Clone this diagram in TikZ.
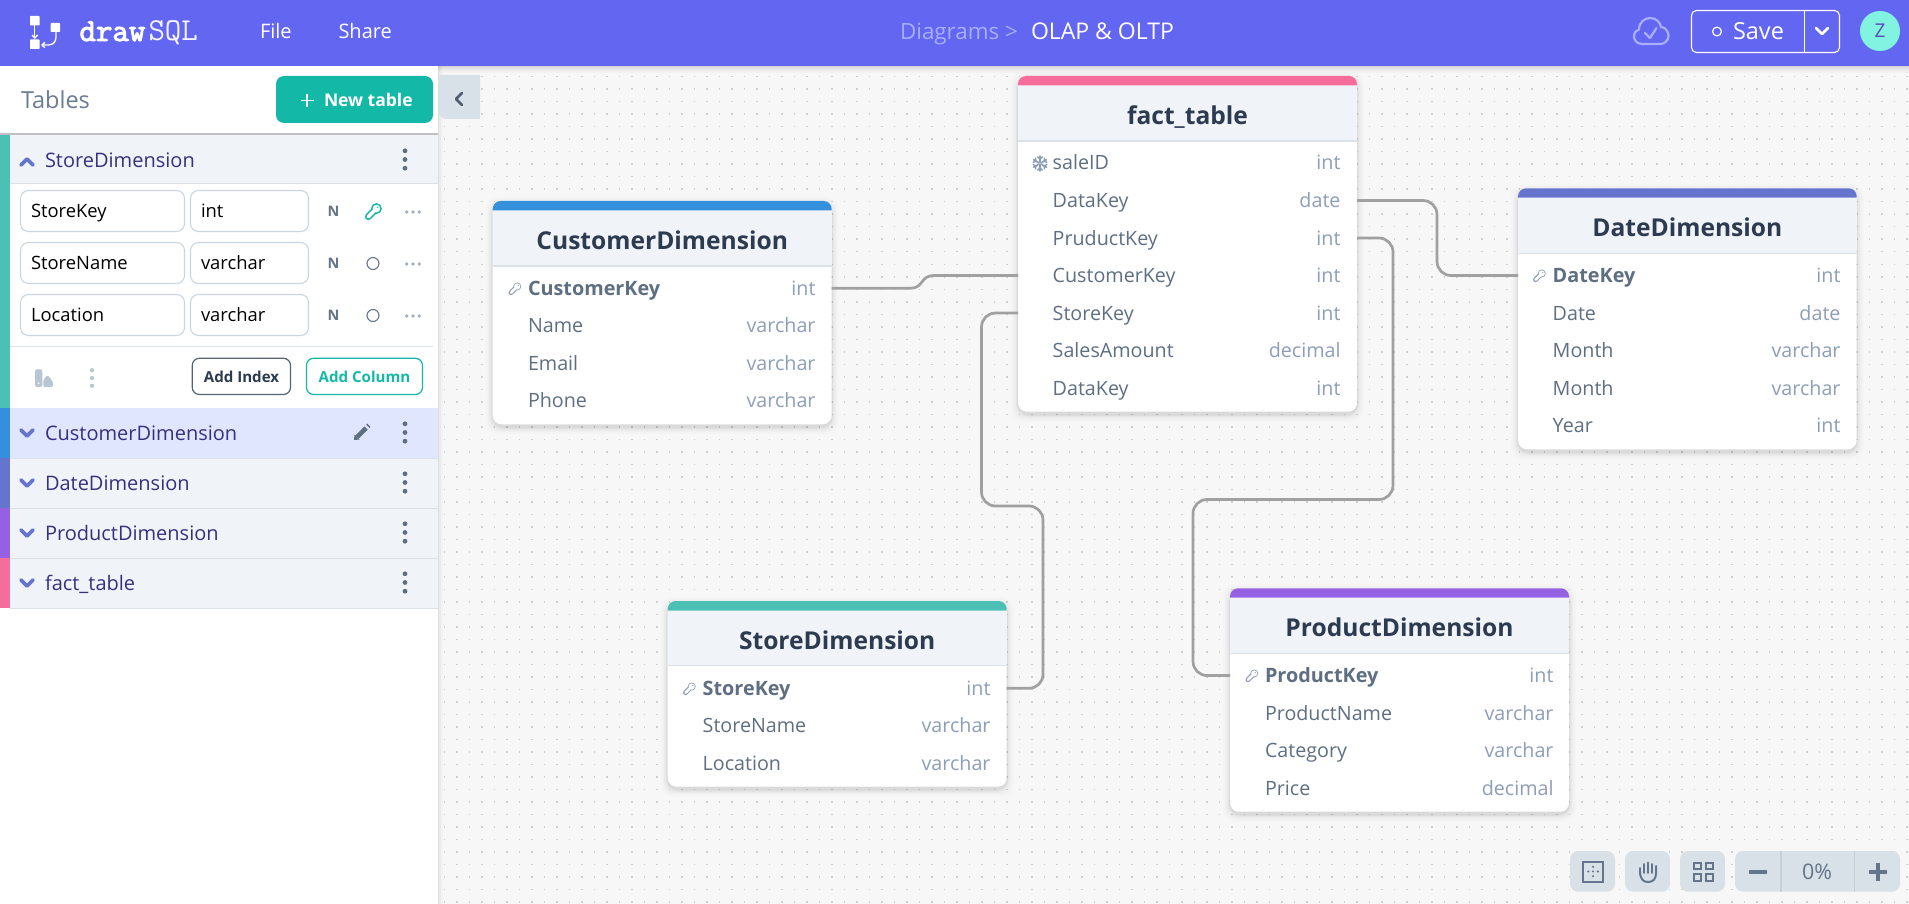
\documentclass[tikz,border=0pt]{standalone}
\usepackage{fontspec}
\setmainfont{Open Sans}
\setmonofont{Latin Modern Mono}
\newfontfamily\logobold[FakeBold=3]{Latin Modern Mono}
\usetikzlibrary{arrows.meta}
\definecolor{hdr}{HTML}{6366F1}
\definecolor{canvasbg}{HTML}{F7F7F7}
\definecolor{griddot}{HTML}{CFCFCF}
\definecolor{teal}{HTML}{14B8A6}
\definecolor{ctTeal}{HTML}{4DC0B5}
\definecolor{ctBlue}{HTML}{3490DC}
\definecolor{ctDate}{HTML}{6574CD}
\definecolor{ctPurple}{HTML}{9561E2}
\definecolor{ctPink}{HTML}{F66D9B}
\definecolor{rowbg}{HTML}{F0F4F8}
\definecolor{rowhi}{HTML}{E0E6FD}
\definecolor{rowline}{HTML}{DAE1E8}
\definecolor{rowtxt}{HTML}{38307F}
\definecolor{fieldtxt}{HTML}{5F6F82}
\definecolor{typetxt}{HTML}{8E9EB8}
\definecolor{titletxt}{HTML}{2D3B50}
\definecolor{inpline}{HTML}{CBD5E0}
\definecolor{icong}{HTML}{64748B}
\definecolor{iconl}{HTML}{B8C5D3}
\definecolor{wire}{HTML}{A0A0A0}
\definecolor{toolbg}{HTML}{D8E1E8}
\definecolor{toolsep}{HTML}{C3D0DB}
\definecolor{cloud}{HTML}{A8AEF8}
\definecolor{crumb}{HTML}{A8AEF8}
\definecolor{avatar}{HTML}{81F3E0}
\definecolor{avatxt}{HTML}{5A4FB5}
\definecolor{tablestxt}{HTML}{6B7C93}
\definecolor{dotsc}{HTML}{5F6F82}
\newcommand{\fsz}[1]{\fontsize{#1}{#1}\selectfont}
\tikzset{
  txt/.style={inner sep=0pt,outer sep=0pt,anchor=base west},
  txtr/.style={inner sep=0pt,outer sep=0pt,anchor=base east},
  txtc/.style={inner sep=0pt,outer sep=0pt,anchor=base},
  fieldname/.style={txt,text=fieldtxt,font=\fsz{19.7}},
  fieldkey/.style={txt,text=fieldtxt,font=\fsz{19.8}\bfseries},
  fieldtype/.style={txtr,text=typetxt,font=\fsz{19.7}},
  tabletitle/.style={txtc,text=titletxt,font=\fsz{24.6}\bfseries},
  tablebox/.style={rectangle,rounded corners=9pt,fill=white,inner sep=0pt,outer sep=0pt},
  rowbox/.style={rectangle,inner sep=0pt,outer sep=0pt,minimum height=37.5pt},
  wireline/.style={draw=wire,line width=2.7pt,rounded corners=14pt},
  inputbox/.style={draw=inpline,line width=1.1pt,rounded corners=8pt,fill=white},
  sidetext/.style={txt,text=rowtxt,font=\fsz{20}},
  inptext/.style={txt,text=black,font=\fsz{18.4}},
  toolbtn/.style={fill=toolbg,rounded corners=8pt},
  toolicon/.style={draw=icong,line width=2pt},
  chev/.style={draw=ctDate,line width=3.6pt,line cap=round,line join=round},
}
% table frame: name, x1, x2, top, bar bottom, head bottom, bottom, colour, title centre y
\newcommand{\dbtable}[9]{%
  \foreach \e/\o in {7/.012,5/.016,3.5/.02,2/.03,1/.04}{
    \fill[black,opacity=\o,rounded corners=12pt] (#2-\e,#4-\e+3) rectangle (#3+\e,#7+\e+3);
  }
  \node[tablebox,minimum width=#3pt-#2pt,minimum height=#7pt-#4pt] (#1) at ({(#2+#3)/2},{(#4+#7)/2}) {};
  \fill[rowbg] (#2,#5) rectangle (#3,#6);
  \draw[rowline,line width=1.1pt] (#2,#6) -- (#3,#6);
  \fill[#8] (#2,#5) [rounded corners=8pt] -- (#2,#4) -- (#3,#4) [sharp corners] -- (#3,#5) -- cycle;
  \node[tabletitle] (#1Title) at ({(#2+#3)/2},#9+9.4) {\dbtitle};
}
\newcommand{\dbtitle}{}
% row: name, x1, x2, centre y, name x, type x, label, type, label style
\newcommand{\dbrow}[9]{%
  \node[rowbox,minimum width=#3pt-#2pt] (#1) at ({(#2+#3)/2},#4) {};
  \node[#9] (#1Name) at (#5,#4+7) {#7};
  \node[fieldtype] (#1Type) at (#6,#4+7) {#8};
}
% key drawn as one outlined shape: x, y, scale, colour, stroke, inner fill
\newcommand{\keyshape}[6]{%
  \begin{scope}[shift={(#1,#2)},scale=#3]
    \fill[#4] (2.8,-2.8) circle ({4.4+#5/2});
    \draw[#4,line width=#3*3.4pt+#5*2pt,line cap=round] (0.5,-0.5) -- (-5,5);
    \fill[#6] (2.8,-2.8) circle ({4.4-#5/2});
    \draw[#6,line width=#3*3.4pt-0.0pt,line cap=round] (0.5,-0.5) -- (-5,5);
    \fill[#4] (4,-4) circle (0.8);
  \end{scope}
}
\newcommand{\kebab}[5]{% x, y, r, spacing, colour
  \foreach \k in {-1,0,1}{\fill[#5] (#1,#2+\k*#4) circle (#3);}
}
\newcommand{\hdots}[5]{%
  \foreach \k in {-1,0,1}{\fill[#5] (#1+\k*#4,#2) circle (#3);}
}
\begin{document}
\begin{tikzpicture}[x=1pt,y=-1pt]
\useasboundingbox (0,0) rectangle (1909,904);
% canvas
\fill[canvasbg] (0,0) rectangle (1909,904);
\foreach \j in {0,...,66}{\draw[griddot,line width=1.5pt,dash pattern=on 1.5pt off 11pt] (443.5,{76.75+\j*12.5}) -- (1909,{76.75+\j*12.5});}
% sidebar
\fill[white] (0,66) rectangle (438,904);
\foreach \e/\o in {1/.05,2.5/.03,4.5/.015}{\fill[black,opacity=\o] (438,66) rectangle (438+\e,904);}
% header
\foreach \e/\o in {1.5/.06,3/.04,5/.03,7/.02}{\fill[black,opacity=\o] (0,66) rectangle (1909,66+\e);}
\fill[hdr] (0,0) rectangle (1909,66);
% logo
\fill[white,rounded corners=.6pt] (30,16) rectangle (39.5,25.5);
\fill[white,rounded corners=.6pt] (30,39.5) rectangle (39.5,49);
\fill[white,rounded corners=.6pt] (50.7,23) rectangle (60,32);
\draw[white,line width=1.3pt,-{Straight Barb[length=3pt,width=5.5pt]}] (34.8,25.5) -- (34.8,39);
\draw[white,line width=1.3pt,-{Straight Barb[length=3pt,width=5.5pt]}] (56,32) -- (56,37) .. controls (56,42) and (53,45) .. (48,45) -- (41,45);
\node[txt,text=white,font=\logobold\fsz{32}] (logoA) at (79.5,41) {draw};
\node[txt,text=white!92!hdr,font=\ttfamily\fsz{32}] (logoB) at (148.5,41) {SQL};
\node[txt,text=white,font=\fsz{20}] (menuFile) at (260,38.5) {File};
\node[txt,text=white,font=\fsz{20}] (menuShare) at (338.5,38.5) {Share};
\node[txt,text=crumb,font=\fsz{22.4}] (crumbA) at (900,40) {Diagrams >};
\node[txt,text=white,font=\fsz{23}] (crumbB) at (1031,40) {OLAP \& OLTP};
% cloud
\draw[cloud,line width=2.2pt,line join=round] (1642,44) .. controls (1636,44) and (1634,39) .. (1634,36.5) .. controls (1634,32) and (1637,30) .. (1639,29.5) .. controls (1639,22) and (1645,18) .. (1650,18) .. controls (1656,18) and (1660,22) .. (1661,27) .. controls (1666,27.5) and (1668.5,32) .. (1668.5,36) .. controls (1668.5,41) and (1664,44) .. (1660,44) -- cycle;
\draw[cloud,line width=2.2pt,line cap=round,line join=round] (1645,33) -- (1650,38) -- (1656.5,28);
% save
\draw[white,line width=1.1pt,rounded corners=5pt] (1691.5,10.5) rectangle (1839.5,52.5);
\draw[white,line width=1.1pt] (1804.5,10.5) -- (1804.5,52.5);
\draw[white,line width=1.2pt] (1717,31.5) circle (4.4);
\node[txt,text=white,font=\fsz{23.5}] (saveText) at (1733,40) {Save};
\draw[white,line width=2.6pt,line cap=round,line join=round] (1816,28) -- (1822,34) -- (1828,28);
\fill[avatar] (1880,31) circle (20);
\node[txtc,text=avatxt,font=\fsz{19}] (avatarZ) at (1880,38) {Z};
% sidebar top
\fill[black!30,opacity=.8] (0,133) rectangle (438,135);
\fill[white] (0,66) rectangle (438,133);
\node[txt,text=tablestxt,font=\fsz{23.5}] (tablesLbl) at (21,108.5) {Tables};
\fill[teal,rounded corners=8pt] (276,76) rectangle (433,123);
\draw[white,line width=1.6pt] (301,100.5) -- (313.5,100.5) (307.2,94.2) -- (307.2,106.8);
\node[txt,text=white,font=\fsz{17.5}\bfseries] (newTable) at (324,106.5) {New table};
\fill[toolbg,rounded corners=8pt] (438.5,75) -- (438.5,119) -- (480,119) [sharp corners] -- (480,75) -- cycle;
\fill[toolbg] (445,75) rectangle (480,119);
\draw[icong!80!black,line width=2.6pt,line join=round,line cap=round] (462,93) -- (456,99) -- (462,105);
% sidebar rows
\fill[rowbg] (10,135) rectangle (438,184);
\draw[rowline,line width=1pt] (10,184) -- (438,184);
\fill[ctTeal] (0,135) rectangle (10,408);
\fill[ctBlue] (0,408) rectangle (10,458);
\fill[ctDate] (0,458) rectangle (10,508);
\fill[ctPurple] (0,508) rectangle (10,558);
\fill[ctPink] (0,558) rectangle (10,608);
\fill[rowhi] (10,408) rectangle (438,458);
\fill[rowbg] (10,458) rectangle (438,608);
\foreach \y in {458,508,558,608}{\draw[rowline,line width=1pt] (10,\y) -- (438,\y);}
\draw[chev] (21,165) -- (27,159) -- (33,165);
\foreach \y in {430,480,530,580}{\draw[chev] (21,\y) -- (27,\y+6) -- (33,\y);}
\node[sidetext] (sideStore) at (45,167.6) {StoreDimension};
\node[sidetext] (sideCust) at (45,440.4) {CustomerDimension};
\node[sidetext] (sideDate) at (45,490.4) {DateDimension};
\node[sidetext] (sideProd) at (45,540.4) {ProductDimension};
\node[sidetext] (sideFact) at (45,590.4) {fact\_table};
\kebab{405}{159.5}{2.4}{8.7}{dotsc}
\foreach \y in {432.5,482.5,532.5,582.5}{\kebab{405}{\y}{2.4}{8.7}{dotsc}}
% pencil
\draw[dotsc,line width=4.6pt] (357,437) -- (366,428);
\draw[dotsc,line width=4.6pt] (367.8,426.2) -- (368.8,425.2);
\fill[dotsc] (354,440) -- (354.5,434.5) -- (359.5,439.5) -- cycle;
% inputs
\foreach \y/\a/\b in {190.5/StoreKey/int,242.5/StoreName/varchar,294.5/Location/varchar}{
  \draw[inputbox] (20.5,\y) rectangle (184.5,\y+41);
  \draw[inputbox] (190.5,\y) rectangle (308.5,\y+41);
  \node[inptext] at (31,\y+27.3) {\a};
  \node[inptext] at (201,\y+27.3) {\b};
  \node[txtc,text=icong,font=\fsz{14.5}\bfseries] at (333.5,\y+26) {N};
  \hdots{413}{\y+21.5}{1.9}{6.2}{iconl!90!black}
}
\foreach \y in {263.5,315.5}{\draw[icong,line width=1.1pt] (373,\y) circle (6);}
\keyshape{373.5}{211.5}{1.05}{teal}{1.6}{white}
% toolbar of the open table
\draw[rowline,line width=1pt] (10,346) -- (433,346);
\fill[iconl,rounded corners=1.5pt] (35,369.3) rectangle (42.4,386.8);
\fill[iconl,rounded corners=1pt] (43.4,386.8) -- (52.8,386.8) -- (52.8,381.5) -- (47.5,375) -- (43.4,380) -- cycle;
\fill[white] (38.7,383.3) circle (.9);
\kebab{92}{378}{2.1}{7.8}{iconl}
\draw[fill=white,draw=icong!85!black,line width=1.2pt,rounded corners=7pt] (192.3,358.3) rectangle (290.5,394.5);
\node[txtc,text=titletxt,font=\fsz{15.1}\bfseries] (addIdx) at (241.5,382) {Add Index};
\draw[fill=white,draw=teal,line width=1.2pt,rounded corners=7pt] (306.5,358.3) rectangle (422.5,394.5);
\node[txtc,text=teal,font=\fsz{15.1}\bfseries] (addCol) at (364.5,382) {Add Column};
% tables
\renewcommand{\dbtitle}{fact\_table}
\dbtable{fact}{1018}{1357}{76}{85.3}{141}{411.7}{ctPink}{115}
\dbrow{fSale}{1018}{1357}{163}{1052.7}{1340.5}{saleID}{int}{fieldname}
\dbrow{fData}{1018}{1357}{200.5}{1052.7}{1340.5}{DataKey}{date}{fieldname}
\dbrow{fProd}{1018}{1357}{238}{1052.7}{1340.5}{PruductKey}{int}{fieldname}
\dbrow{fCust}{1018}{1357}{275.5}{1052.7}{1340.5}{CustomerKey}{int}{fieldname}
\dbrow{fStore}{1018}{1357}{313}{1052.7}{1340.5}{StoreKey}{int}{fieldname}
\dbrow{fSales}{1018}{1357}{350.5}{1052.7}{1340.5}{SalesAmount}{decimal}{fieldname}
\dbrow{fDate}{1018}{1357}{388}{1052.7}{1340.5}{DataKey}{int}{fieldname}
\begin{scope}[shift={(1040,163.5)}]
  \foreach \a in {0,60,...,300}{
    \begin{scope}[rotate=\a]
      \draw[typetxt,line width=1.7pt,line cap=round] (0,1.2) -- (0,7.4);
      \draw[typetxt,line width=1.4pt,line cap=round] (-2.4,6.6) -- (0,4.6) -- (2.4,6.6);
    \end{scope}
  }
\end{scope}
\renewcommand{\dbtitle}{CustomerDimension}
\dbtable{cust}{492.7}{831.7}{201}{210.3}{266}{424.3}{ctBlue}{240}
\dbrow{cKey}{492.7}{831.7}{288.3}{528}{815.5}{CustomerKey}{int}{fieldkey}
\dbrow{cName}{492.7}{831.7}{325.5}{528}{815.5}{Name}{varchar}{fieldname}
\dbrow{cMail}{492.7}{831.7}{363}{528}{815.5}{Email}{varchar}{fieldname}
\dbrow{cPhone}{492.7}{831.7}{400}{528}{815.5}{Phone}{varchar}{fieldname}
\keyshape{515}{288.7}{.8}{typetxt}{1.1}{white}
\renewcommand{\dbtitle}{DateDimension}
\dbtable{date}{1518}{1856.7}{188.3}{197.7}{253.3}{449.3}{ctDate}{226.7}
\dbrow{dKey}{1518}{1856.7}{275.5}{1552.7}{1840.5}{DateKey}{int}{fieldkey}
\dbrow{dDate}{1518}{1856.7}{313}{1552.7}{1840.5}{Date}{date}{fieldname}
\dbrow{dMon}{1518}{1856.7}{350}{1552.7}{1840.5}{Month}{varchar}{fieldname}
\dbrow{dMonB}{1518}{1856.7}{388}{1552.7}{1840.5}{Month}{varchar}{fieldname}
\dbrow{dYear}{1518}{1856.7}{425}{1552.7}{1840.5}{Year}{int}{fieldname}
\keyshape{1539.5}{275.7}{.8}{typetxt}{1.1}{white}
\renewcommand{\dbtitle}{StoreDimension}
\dbtable{store}{667.7}{1006.7}{601}{610.5}{665.7}{786.7}{ctTeal}{640}
\dbrow{sKey}{667.7}{1006.7}{688.3}{702.7}{990.5}{StoreKey}{int}{fieldkey}
\dbrow{sName}{667.7}{1006.7}{725.5}{702.7}{990.5}{StoreName}{varchar}{fieldname}
\dbrow{sLoc}{667.7}{1006.7}{763}{702.7}{990.5}{Location}{varchar}{fieldname}
\keyshape{689.5}{688.7}{.8}{typetxt}{1.1}{white}
\renewcommand{\dbtitle}{ProductDimension}
\dbtable{prod}{1230}{1569}{588.3}{597.7}{653.3}{811.7}{ctPurple}{627}
\dbrow{pKey}{1230}{1569}{675.5}{1265}{1553.5}{ProductKey}{int}{fieldkey}
\dbrow{pName}{1230}{1569}{713}{1265}{1553.5}{ProductName}{varchar}{fieldname}
\dbrow{pCat}{1230}{1569}{750.5}{1265}{1553.5}{Category}{varchar}{fieldname}
\dbrow{pPrice}{1230}{1569}{788}{1265}{1553.5}{Price}{decimal}{fieldname}
\keyshape{1252}{675.7}{.8}{typetxt}{1.1}{white}
% connectors
\draw[draw=wire,line width=2.7pt] (cKey.east) -- (910,288.3) .. controls (924,288.3) and (920,275.5) .. (934,275.5) -- (fCust.west);
\draw[wireline] (fData.east) -- (1437,200.5) -- (1437,275.5) -- (dKey.west);
\draw[wireline] (fProd.east) -- (1393,238) -- (1393,499.5) -- (1193,499.5) -- (1193,675.5) -- (pKey.west);
\draw[wireline] (fStore.west) -- (981.5,313) -- (981.5,506) -- (1043,506) -- (1043,688.3) -- (sKey.east);
% bottom tools
\fill[toolbtn] (1570,851) rectangle (1615,891.7);
\fill[toolbtn] (1625,851) rectangle (1670,891.7);
\fill[toolbtn] (1680,851) rectangle (1725,891.7);
\fill[toolbtn] (1735,851) rectangle (1900,891.7);
\fill[toolsep] (1780,851) rectangle (1781.7,891.7);
\fill[toolsep] (1853.5,851) rectangle (1855.2,891.7);
\draw[toolicon] (1583,861.5) rectangle (1603,881.5);
\fill[icong] (1593,866.8) circle (1.2) (1593,871.5) circle (1.2) (1593,876.2) circle (1.2) (1588.2,871.5) circle (1.2) (1597.8,871.5) circle (1.2);
\draw[toolicon,line cap=round,line join=round] (1640,871) .. controls (1640,880) and (1644,882) .. (1648,882) .. controls (1653,882) and (1656,879) .. (1656,873) -- (1656,866);
\draw[toolicon,line width=1.8pt,line cap=round] (1640,871) -- (1640,868) (1644,873) -- (1644,864) (1648,873) -- (1648,862.5) (1652,873) -- (1652,864);
\foreach \x/\y in {1694.3/862.7,1706/862.7,1694.3/874.3,1706/874.3}{\draw[toolicon] (\x,\y) rectangle ++(6.6,6.6);}
\draw[icong,line width=4pt] (1749,872) -- (1767,872);
\draw[icong,line width=4pt] (1869,872) -- (1887,872) (1878,863) -- (1878,881);
\node[txtc,text=icong,font=\fsz{21.5}] (zoomPct) at (1817,879.5) {0\%};
\end{tikzpicture}
\end{document}
